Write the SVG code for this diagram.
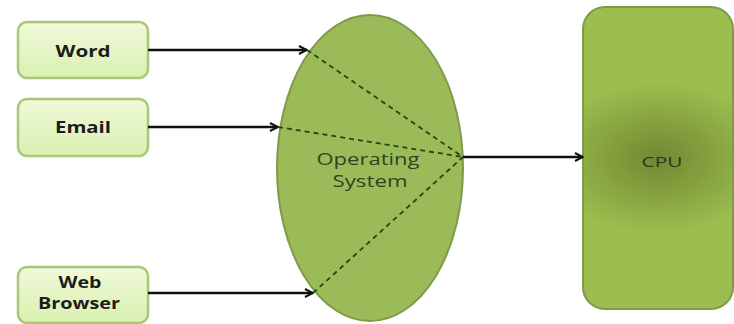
<svg xmlns="http://www.w3.org/2000/svg" width="734" height="324" viewBox="0 0 734 324">
<defs>
<linearGradient id="boxGrad" x1="0" y1="0" x2="0" y2="1">
<stop offset="0" stop-color="#f0fad9"/>
<stop offset="1" stop-color="#d9f0b0"/>
</linearGradient>
<radialGradient id="cpuGrad" cx="0.5" cy="0.5" r="0.5" gradientTransform="translate(0.5 0.5) scale(1.5 0.5) translate(-0.5 -0.5)">
<stop offset="0" stop-color="#6f8a34"/>
<stop offset="0.45" stop-color="#84a03d"/>
<stop offset="1" stop-color="#9cbd4f"/>
</radialGradient>
<marker id="arrow" viewBox="0 0 10 10" refX="9" refY="5" markerWidth="10" markerHeight="10" markerUnits="userSpaceOnUse" orient="auto">
<path d="M1,1 L9,5 L1,9" fill="none" stroke="#111" stroke-width="2"/>
</marker>
<style>
.box{fill:url(#boxGrad);stroke:#a9c77a;stroke-width:2.5}
.boxtext{font-family:"Open Sans","Liberation Sans",sans-serif;font-weight:bold;font-size:16px;fill:#1c1c1c;text-anchor:middle}
.conn{stroke:#111;stroke-width:2.4;fill:none}
.dash{stroke:#264510;stroke-width:1.8;stroke-dasharray:5 4;fill:none}
.ostext{font-family:"Open Sans","Liberation Sans",sans-serif;font-size:17px;fill:#2d4320;text-anchor:middle}
</style>
</defs>
<rect width="734" height="324" fill="#ffffff"/>
<g id="node-word">
<rect class="box" x="18" y="22" width="130" height="56" rx="9"/>
<text class="boxtext" x="83" y="57" textLength="55" lengthAdjust="spacingAndGlyphs">Word</text>
</g>
<g id="node-email">
<rect class="box" x="18" y="99" width="130" height="57" rx="9"/>
<text class="boxtext" x="83" y="133" textLength="56" lengthAdjust="spacingAndGlyphs">Email</text>
</g>
<g id="node-browser">
<rect class="box" x="18" y="267" width="130" height="56" rx="9"/>
<text class="boxtext" x="80" y="288" textLength="43" lengthAdjust="spacingAndGlyphs">Web</text>
<text class="boxtext" x="79" y="309" textLength="82" lengthAdjust="spacingAndGlyphs">Browser</text>
</g>
<g id="node-os">
<ellipse cx="370" cy="168" rx="93" ry="153" fill="#9bbb59" stroke="#7f9a48" stroke-width="2"/>
<text class="ostext" x="368" y="165" textLength="103" lengthAdjust="spacingAndGlyphs">Operating</text>
<text class="ostext" x="370" y="187" textLength="75" lengthAdjust="spacingAndGlyphs">System</text>
</g>
<g id="node-cpu">
<rect x="583" y="7" width="150" height="302" rx="22" fill="url(#cpuGrad)" stroke="#7f9a48" stroke-width="2"/>
<text x="662" y="167" font-family="'Open Sans','Liberation Sans',sans-serif" font-size="14" fill="#2f3422" text-anchor="middle" textLength="41" lengthAdjust="spacingAndGlyphs">CPU</text>
</g>
<g id="connectors">
<line class="conn" x1="148" y1="50" x2="307" y2="50" marker-end="url(#arrow)"/>
<line class="conn" x1="148" y1="127" x2="278" y2="127" marker-end="url(#arrow)"/>
<line class="conn" x1="148" y1="293" x2="313" y2="293" marker-end="url(#arrow)"/>
<line class="conn" x1="463" y1="157" x2="583" y2="157" marker-end="url(#arrow)"/>
<line class="dash" x1="307" y1="50" x2="463" y2="157"/>
<line class="dash" x1="278" y1="127" x2="463" y2="157"/>
<line class="dash" x1="313" y1="293" x2="463" y2="157"/>
</g>
</svg>
